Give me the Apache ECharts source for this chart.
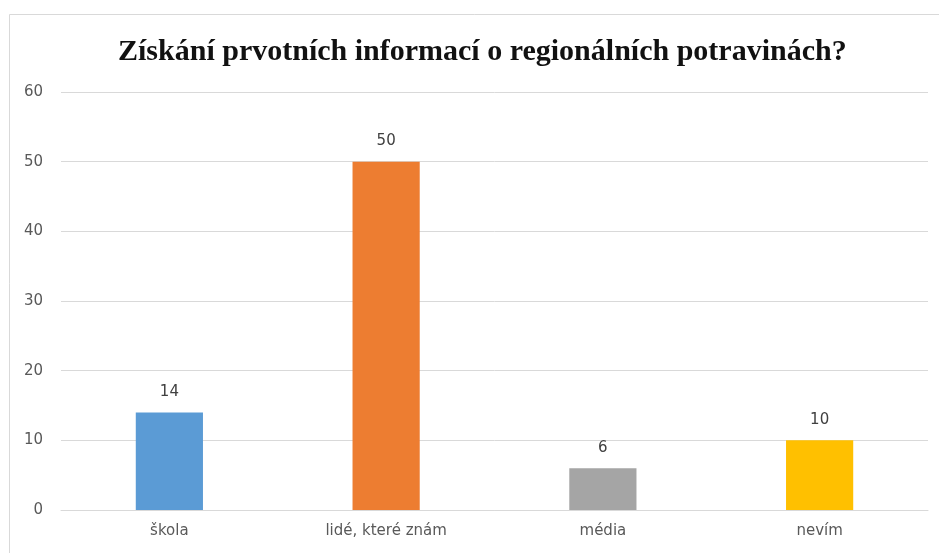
<!DOCTYPE html>
<html>
<head>
<meta charset="utf-8">
<script src="https://cdn.jsdelivr.net/npm/echarts@6/dist/echarts.min.js"></script>
<style>
  html, body { margin: 0; padding: 0; background: #fff; }
  #chart { width: 939px; height: 553px; }
</style>
</head>
<body>
<div id="chart"></div>
<script>
// Survey answers: where respondents first learned about regional food
const chartTitle = 'Získání prvotních informací o regionálních potravinách?';
const categories = ['škola', 'lidé, které znám', 'média', 'nevím'];
const counts = [14, 50, 6, 10];
const barColors = ['#5B9BD5', '#ED7D31', '#A5A5A5', '#FFC000'];
const yTicks = { min: 0, max: 60, interval: 10 };

const labelFont = '"DejaVu Sans", "Open Sans", sans-serif';

const chart = echarts.init(document.getElementById('chart'));

chart.setOption({
  backgroundColor: '#ffffff',
  animation: false,
  title: {
    text: chartTitle,
    left: 113,
    top: 32,
    textStyle: {
      fontFamily: '"Liberation Serif", "DejaVu Serif", serif',
      fontWeight: 'bold',
      fontSize: 30,
      color: '#111111'
    }
  },
  // thin frame around the chart area (top and left edges visible)
  graphic: [
    { type: 'line', shape: { x1: 9.5, y1: 14.5, x2: 939, y2: 14.5 },
      style: { stroke: '#d9d9d9', lineWidth: 1 } },
    { type: 'line', shape: { x1: 9.5, y1: 14.5, x2: 9.5, y2: 553 },
      style: { stroke: '#d9d9d9', lineWidth: 1 } }
  ],
  grid: { left: 61, right: 11, top: 92, bottom: 43, containLabel: false },
  xAxis: {
    type: 'category',
    data: categories,
    axisLine: { show: true, lineStyle: { color: '#d9d9d9' } },
    axisTick: { show: false },
    axisLabel: {
      color: '#595959',
      fontFamily: labelFont,
      fontSize: 15,
      margin: 14
    }
  },
  yAxis: {
    type: 'value',
    min: yTicks.min,
    max: yTicks.max,
    interval: yTicks.interval,
    axisLine: { show: false },
    axisTick: { show: false },
    splitLine: { lineStyle: { color: '#d9d9d9', width: 1 } },
    axisLabel: {
      color: '#595959',
      fontFamily: labelFont,
      fontSize: 15,
      margin: 18
    }
  },
  series: [{
    type: 'bar',
    data: counts.map((v, i) => ({ value: v, itemStyle: { color: barColors[i] } })),
    barWidth: '31%',
    label: {
      show: true,
      position: 'top',
      distance: 13,
      color: '#404040',
      fontFamily: labelFont,
      fontSize: 15
    }
  }]
});
</script>
</body>
</html>
